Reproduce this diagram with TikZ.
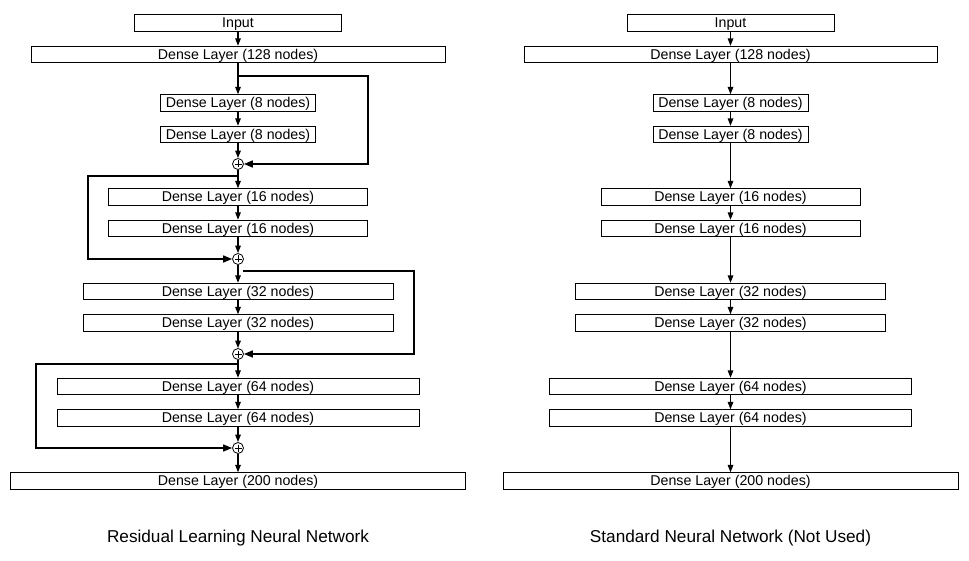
\documentclass[tikz,border=0pt]{standalone}
\usepackage{fontspec}
\setmainfont{Liberation Sans}
\usetikzlibrary{arrows.meta, positioning, calc}

\begin{document}
\begin{tikzpicture}[x=1pt, y=-1pt,
  layer/.style={draw, line width=0.8pt, inner sep=0pt, minimum height=16.5pt,
                text height=11.2pt, text depth=2pt, font=\fontsize{14.2}{16}\selectfont},
  addop/.style={draw, circle, line width=0.8pt, inner sep=0pt, minimum size=11pt,
                path picture={\draw[line width=0.7pt]
                  ([yshift=-2pt]path picture bounding box.north) -- ([yshift=2pt]path picture bounding box.south)
                  ([xshift=2pt]path picture bounding box.west) -- ([xshift=-2pt]path picture bounding box.east);}},
  arr/.style={-{Triangle[length=7.5pt, width=5.5pt]}, line width=1.4pt},
  skip/.style={-{Triangle[length=9pt, width=7pt]}, line width=1.6pt},
  caption/.style={font=\fontsize{17.2}{20}\selectfont},
]
\useasboundingbox (0,0) rectangle (969,561);

% residual network (left)
\node[layer, minimum width=207pt] (rin) at (238,23) {Input};
\node[layer, minimum width=414pt] (r128) at (238,54.5) {Dense Layer (128 nodes)};
\node[layer, minimum width=155pt] (r8a) at (238,103) {Dense Layer (8 nodes)};
\node[layer, minimum width=155pt] (r8b) at (238,134.5) {Dense Layer (8 nodes)};
\node[addop] (add1) at (238,164) {};
\node[layer, minimum width=259pt] (r16a) at (238,197) {Dense Layer (16 nodes)};
\node[layer, minimum width=259pt] (r16b) at (238,228.5) {Dense Layer (16 nodes)};
\node[addop] (add2) at (238,259) {};
\node[layer, minimum width=310pt] (r32a) at (238,291.5) {Dense Layer (32 nodes)};
\node[layer, minimum width=310pt] (r32b) at (238,323) {Dense Layer (32 nodes)};
\node[addop] (add3) at (238,354) {};
\node[layer, minimum width=362pt] (r64a) at (238,386.5) {Dense Layer (64 nodes)};
\node[layer, minimum width=362pt] (r64b) at (238,418) {Dense Layer (64 nodes)};
\node[addop] (add4) at (238,448) {};
\node[layer, minimum width=455pt] (r200) at (238,481) {Dense Layer (200 nodes)};
\node[caption] (rcap) at (238,538.5) {Residual Learning Neural Network};

\draw[arr] (rin) -- (r128);
\draw[arr] (r128) -- (r8a);
\draw[arr] (r8a) -- (r8b);
\draw[arr] (r8b) -- (add1);
\draw[arr] (add1) -- (r16a);
\draw[arr] (r16a) -- (r16b);
\draw[arr] (r16b) -- (add2);
\draw[arr] (add2) -- (r32a);
\draw[arr] (r32a) -- (r32b);
\draw[arr] (r32b) -- (add3);
\draw[arr] (add3) -- (r64a);
\draw[arr] (r64a) -- (r64b);
\draw[arr] (r64b) -- (add4);
\draw[arr] (add4) -- (r200);

% skip connections
\coordinate (sk1) at (238,76);
\coordinate (sk2) at (238,176);
\coordinate (sk3) at (243,271);
\coordinate (sk4) at (238,364);
\draw[skip] (sk1) -- (368,76) |- (add1);
\draw[skip] (sk2) -- (88,176) |- (add2);
\draw[skip] (sk3) -- (414,271) |- (add3);
\draw[skip] (sk4) -- (36,364) |- (add4);

% standard network (right)
\node[layer, minimum width=207pt] (sin) at (730.5,23) {Input};
\node[layer, minimum width=413pt] (s128) at (730.5,54.5) {Dense Layer (128 nodes)};
\node[layer, minimum width=155pt] (s8a) at (730.5,103) {Dense Layer (8 nodes)};
\node[layer, minimum width=155pt] (s8b) at (730.5,134.5) {Dense Layer (8 nodes)};
\node[layer, minimum width=259pt] (s16a) at (730.5,197) {Dense Layer (16 nodes)};
\node[layer, minimum width=259pt] (s16b) at (730.5,228.5) {Dense Layer (16 nodes)};
\node[layer, minimum width=310pt] (s32a) at (730.5,291.5) {Dense Layer (32 nodes)};
\node[layer, minimum width=310pt] (s32b) at (730.5,323) {Dense Layer (32 nodes)};
\node[layer, minimum width=362pt] (s64a) at (730.5,386.5) {Dense Layer (64 nodes)};
\node[layer, minimum width=362pt] (s64b) at (730.5,418) {Dense Layer (64 nodes)};
\node[layer, minimum width=455pt] (s200) at (730.5,481) {Dense Layer (200 nodes)};
\node[caption] (scap) at (730.5,538.5) {Standard Neural Network (Not Used)};

\draw[arr] (sin) -- (s128);
\draw[arr] (s128) -- (s8a);
\draw[arr] (s8a) -- (s8b);
\draw[arr] (s8b) -- (s16a);
\draw[arr] (s16a) -- (s16b);
\draw[arr] (s16b) -- (s32a);
\draw[arr] (s32a) -- (s32b);
\draw[arr] (s32b) -- (s64a);
\draw[arr] (s64a) -- (s64b);
\draw[arr] (s64b) -- (s200);
\end{tikzpicture}
\end{document}
